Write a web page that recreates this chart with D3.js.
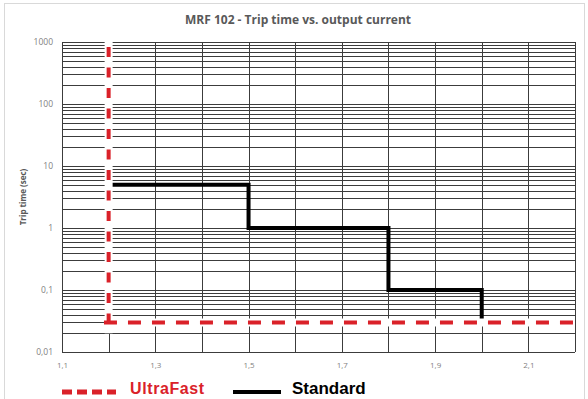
<!DOCTYPE html>
<html>
<head>
<meta charset="utf-8">
<script src="https://cdn.jsdelivr.net/npm/d3@7"></script>
<style>
  body { margin: 0; background: #fff; }
  svg { display: block; }
</style>
</head>
<body>
<div class="chart"></div>
<script>
// Chart data
const title = "MRF 102 - Trip time vs. output current";
const yTitle = "Trip time (sec)";

// Standard curve: output current vs trip time (sec)
const standardX = [1.2, 1.5, 1.5, 1.8, 1.8, 2.0, 2.0];
const standardY = [5, 5, 1, 1, 0.1, 0.1, 0.03];

// UltraFast curve, drawn as two dashed segments
const ultraVertX = [1.2, 1.2];
const ultraVertY = [1000, 0.02];
const ultraHorizX = [1.19, 2.2];
const ultraHorizY = [0.03, 0.03];

const xTicks = [1.1, 1.3, 1.5, 1.7, 1.9, 2.1];
const yTicks = [1000, 100, 10, 1, 0.1, 0.01];
const legendNames = ["UltraFast", "Standard"];

const width = 588, height = 399;
const margin = { top: 42, right: 13, bottom: 47, left: 62 };
const w = width - margin.left - margin.right,
  h = height - margin.top - margin.bottom;

const svg = d3
  .select(".chart")
  .append("svg")
  .attr("width", width)
  .attr("height", height);

// light frame round the chart
svg
  .append("rect")
  .attr("x", 4.5)
  .attr("y", 3.5)
  .attr("width", 580)
  .attr("height", 420)
  .attr("fill", "none")
  .attr("stroke", "#d9d9d9");

const g = svg
  .append("g")
  .attr("transform", `translate(${margin.left},${margin.top})`);

const x = d3.scaleLinear().domain([1.1, 2.2]).range([0, w]);
const y = d3.scaleLog().domain([0.01, 1000]).range([h, 0]);

// Grid: vertical every 0.1, horizontal at log minor ticks
const xGrid = d3.range(11, 23).map((d) => d / 10);
const yGrid = [];
for (let e = -2; e <= 2; e++) {
  for (let k = 1; k <= 9; k++) yGrid.push(k * Math.pow(10, e));
}
yGrid.push(1000);

const gridColor = "#3c3c3c";
g.append("g")
  .selectAll("line")
  .data(yGrid)
  .join("line")
  .attr("x1", 0)
  .attr("x2", w)
  .attr("y1", (d) => Math.round(y(d)) + 0.5)
  .attr("y2", (d) => Math.round(y(d)) + 0.5)
  .attr("stroke", gridColor)
  .attr("stroke-width", 1);

g.append("g")
  .selectAll("line")
  .data(xGrid)
  .join("line")
  .attr("x1", (d) => Math.round(x(d)) + 0.5)
  .attr("x2", (d) => Math.round(x(d)) + 0.5)
  .attr("y1", 0)
  .attr("y2", h)
  .attr("stroke", gridColor)
  .attr("stroke-width", 1);

// Axes (labels only)
const fmtComma = (d) => String(d).replace(".", ",");
const xAxis = g
  .append("g")
  .attr("transform", `translate(0,${h})`)
  .call(d3.axisBottom(x).tickValues(xTicks).tickSize(0).tickPadding(10).tickFormat(fmtComma));
xAxis.select(".domain").remove();
xAxis
  .selectAll("text")
  .attr("fill", "#7f7f7f")
  .style("font-family", "Open Sans")
  .style("font-size", "8px");

const yAxis = g
  .append("g")
  .call(d3.axisLeft(y).tickValues(yTicks).tickSize(0).tickPadding(9).tickFormat(fmtComma));
yAxis.select(".domain").remove();
yAxis
  .selectAll("text")
  .attr("fill", "#7f7f7f")
  .style("font-family", "Open Sans")
  .style("font-size", "8.5px");

// Standard curve
const line = d3
  .line()
  .x((d) => x(d[0]))
  .y((d) => y(d[1]));

g.append("path")
  .datum(d3.zip(standardX, standardY))
  .attr("d", line)
  .attr("fill", "none")
  .attr("stroke", "#000")
  .attr("stroke-width", 4);

// UltraFast curve with white casing
const ultraSegs = [
  { pts: d3.zip(ultraVertX, ultraVertY), dash: "10,10.5", offset: -5 },
  { pts: d3.zip(ultraHorizX, ultraHorizY), dash: "13,11", offset: 0 },
];
ultraSegs.forEach((s) => {
  g.append("path")
    .datum(s.pts)
    .attr("d", line)
    .attr("fill", "none")
    .attr("stroke", "#fff")
    .attr("stroke-width", 8);
});
ultraSegs.forEach((s) => {
  g.append("path")
    .datum(s.pts)
    .attr("d", line)
    .attr("fill", "none")
    .attr("stroke", "#da2129")
    .attr("stroke-width", 4)
    .attr("stroke-dasharray", s.dash)
    .attr("stroke-dashoffset", s.offset);
});

// Title
svg
  .append("text")
  .attr("x", 298)
  .attr("y", 24)
  .attr("text-anchor", "middle")
  .attr("fill", "#595959")
  .style("font-family", "Open Sans")
  .style("font-weight", "bold")
  .style("font-size", "12px")
  .text(title);

// Y axis title
svg
  .append("text")
  .attr("transform", `translate(26,197) rotate(-90)`)
  .attr("text-anchor", "middle")
  .attr("fill", "#595959")
  .style("font-family", "Open Sans")
  .style("font-weight", "bold")
  .style("font-size", "8px")
  .text(yTitle);

// Legend
const legend = svg.append("g");
legend
  .append("line")
  .attr("x1", 62)
  .attr("x2", 116)
  .attr("y1", 392)
  .attr("y2", 392)
  .attr("stroke", "#da2129")
  .attr("stroke-width", 5)
  .attr("stroke-dasharray", "10,5");
legend
  .append("text")
  .attr("x", 130)
  .attr("y", 394)
  .attr("fill", "#da2129")
  .style("font-family", "Liberation Sans")
  .style("font-weight", "bold")
  .style("font-size", "16px")
  .style("letter-spacing", "0.6px")
  .text(legendNames[0]);
legend
  .append("line")
  .attr("x1", 233)
  .attr("x2", 281)
  .attr("y1", 392)
  .attr("y2", 392)
  .attr("stroke", "#000")
  .attr("stroke-width", 4);
legend
  .append("text")
  .attr("x", 292)
  .attr("y", 394)
  .attr("fill", "#000")
  .style("font-family", "Liberation Sans")
  .style("font-weight", "bold")
  .style("font-size", "17px")
  .text(legendNames[1]);
</script>
</body>
</html>
